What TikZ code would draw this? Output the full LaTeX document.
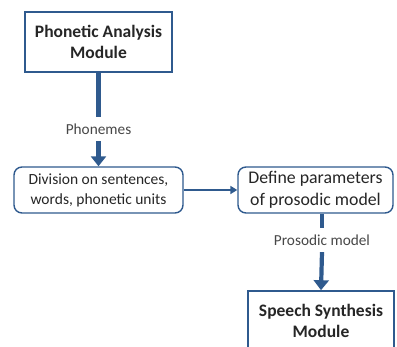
\documentclass[tikz,border=0pt]{standalone}
\usepackage{fontspec}
\setmainfont{Carlito}
\usetikzlibrary{arrows.meta}
\definecolor{edge}{HTML}{2F5A8E}
\definecolor{txt}{HTML}{262626}
\begin{document}
\begin{tikzpicture}[x=1pt,y=1pt,
  modbox/.style={draw=edge,line width=1.6pt,fill=white,align=center,inner sep=0pt,
     text=txt,font=\fontsize{17.5}{20.5}\selectfont\bfseries},
  procbox/.style={draw=edge,line width=1.4pt,rounded corners=8pt,fill=white,align=center,inner sep=0pt,text=txt},
  lbl/.style={inner sep=0pt,minimum height=24pt,text=txt!85,font=\fontsize{15.3}{17}\selectfont},
  thick line/.style={draw=edge,line width=4.2pt},
  thick arrow/.style={draw=edge,line width=4.2pt,-{Triangle[width=15pt,length=10pt]}},
  thin arrow/.style={draw=edge,line width=2.2pt,-{Triangle[width=8pt,length=7pt]}}]
\useasboundingbox (0,0) rectangle (397,-347);
\clip (0,0) rectangle (397,-347);
\node[modbox,minimum width=147pt,minimum height=60pt] (b1) at (98.5,-42) {Phonetic Analysis\\Module};
\node[lbl] (ph) at (98.5,-129) {Phonemes};
\node[procbox,minimum width=169pt,minimum height=46pt,font=\fontsize{15.5}{20}\selectfont] (b2) at (98.5,-190) {Division on sentences,\\words, phonetic units};
\node[procbox,minimum width=155pt,minimum height=46pt,font=\fontsize{17.8}{22.5}\selectfont] (b3) at (315.5,-190) {Define parameters\\of prosodic model};
\node[lbl] (pm) at (322,-240) {Prosodic model};
\node[modbox,minimum width=146pt,minimum height=60pt] (b4) at (321,-321) {Speech Synthesis\\Module};
\draw[thick line] (b1.south) -- (ph.north);
\draw[thick arrow] (ph.south) -- (b2.north);
\draw[thin arrow] (b2.east) -- (b3.west);
\draw[draw=edge,line width=3.5pt] (pm.north |- b3.south) -- (pm.north);
\draw[thick arrow] (pm.south) -- (b4.north);
\end{tikzpicture}
\end{document}
